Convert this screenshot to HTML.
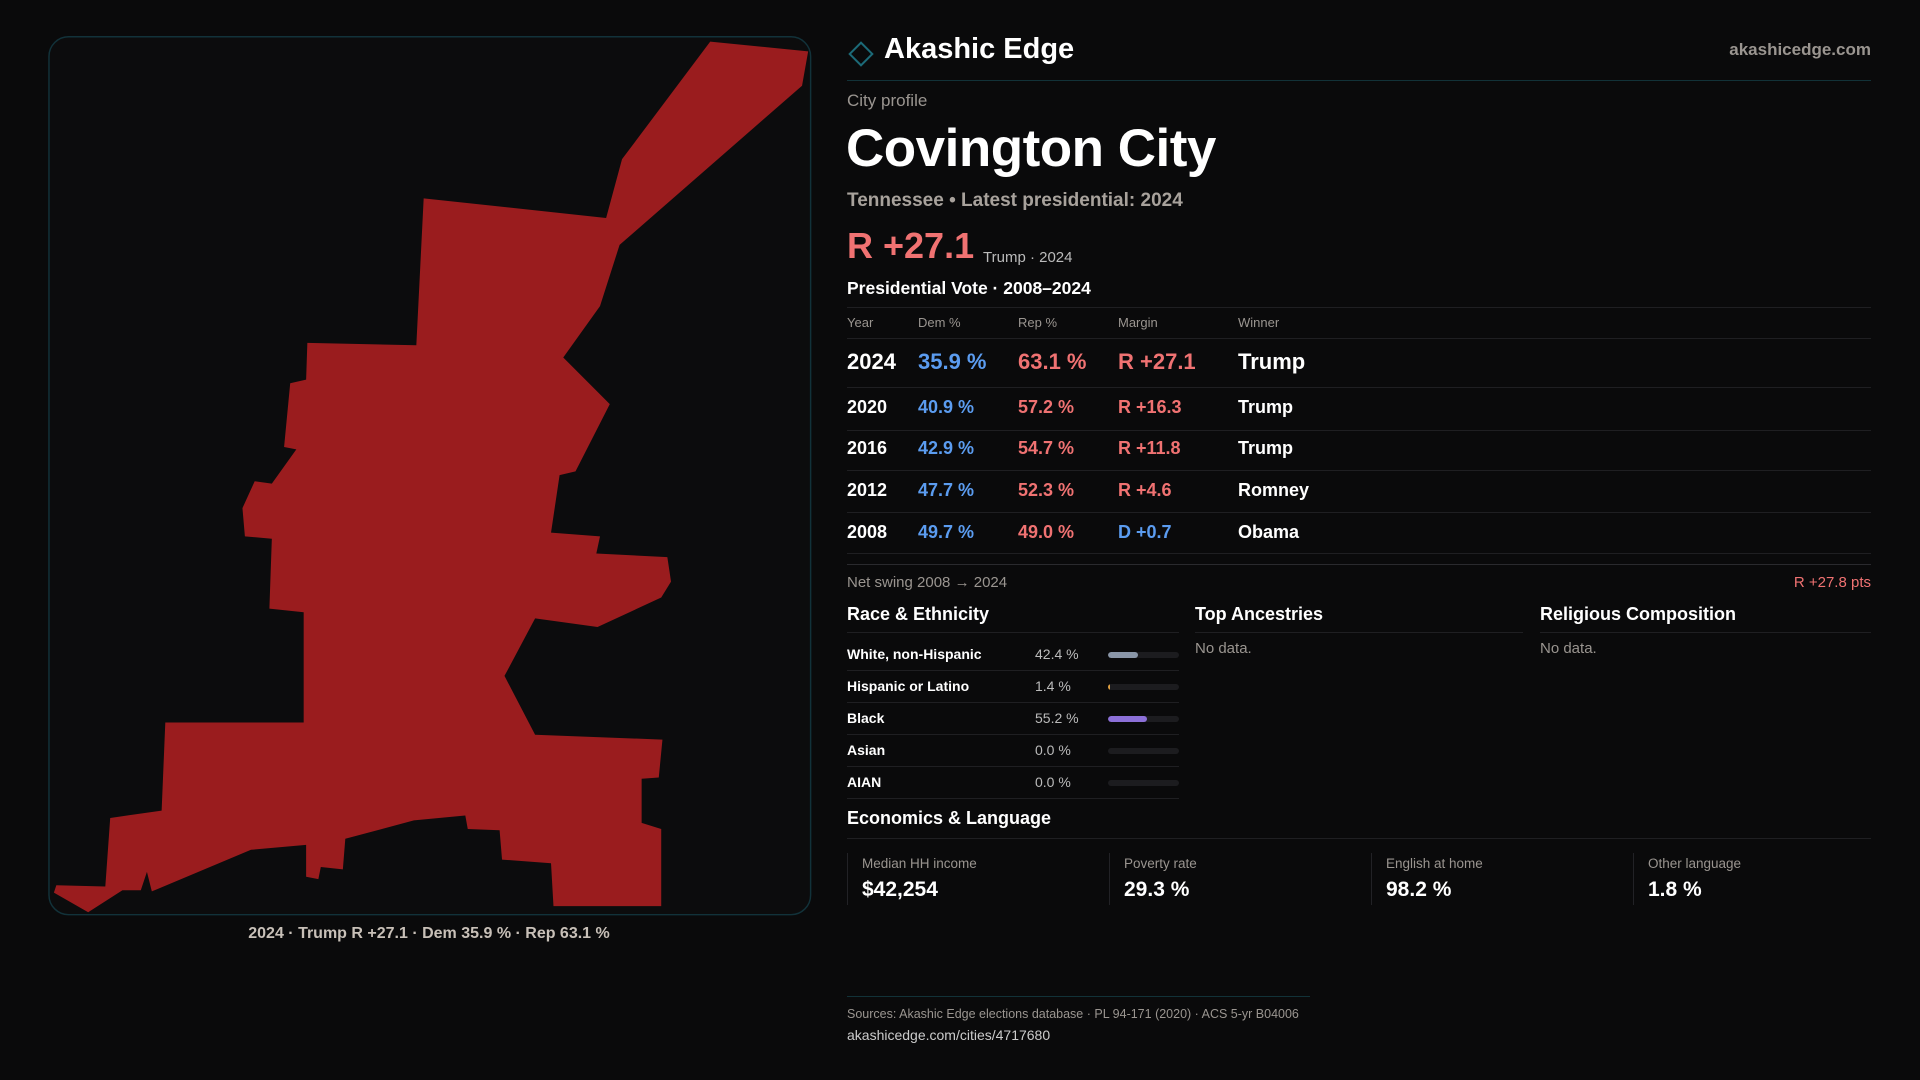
<!DOCTYPE html>
<html><head><meta charset="utf-8"><style>
*{margin:0;padding:0;box-sizing:border-box}
body{width:1920px;height:1080px;background:#0a0a0b;font-family:"Liberation Sans",sans-serif;color:#fff;position:relative;overflow:hidden}
.a{position:absolute;white-space:nowrap}
.g{color:#9a9590}
.dem{color:#5b9cf0}.rep{color:#f07272}
.ln{position:absolute;height:1px;background:#1f1f22}
</style></head><body>
<svg class="a" style="left:0;top:0" width="1920" height="1080" viewBox="0 0 1568 882">
<rect x="40" y="30" width="622" height="717" rx="16" fill="#0c0c0d" stroke="#12323a" stroke-width="1.2"/>
<polygon fill="#9a1c1e" points="580,34 660,42 655,70 506,200 490,250 460,292 498,330 470,385 457,388 450,435 490,438 487,452 545,455 548,475 540,488 488,512 437,505 412,552 437,600 541,604 538,635 524,636 524,672 540,677 540,740 452,740 450,705 410,702 408,678 382,677 380,666 338,670 282,685 280,710 262,708 260,718 250,716 250,690 205,694 124,728 120,712 115,727 100,727 72,745 44,729 46,723 86,724 90,668 132,662 135,590 248,590 248,500 220,497 222,440 200,438 198,415 208,393 222,395 242,367 232,365 237,313 250,310 251,280 340,282 346,162 495,178 508,130"/>
</svg>
<div class="a" style="left:0;width:858px;top:925px;text-align:center;font-size:16px;color:#c8c0b8;font-weight:bold">2024 · Trump R +27.1 · Dem 35.9 % · Rep 63.1 %</div>

<svg class="a" style="left:848px;top:41px" width="26" height="26"><rect x="5" y="5" width="16" height="16" transform="rotate(45 13 13)" fill="none" stroke="#1c6a78" stroke-width="2"/></svg>
<div class="a" style="left:884px;top:33px;font-size:29px;font-weight:bold">Akashic Edge</div>
<div class="a g" style="right:49px;top:40px;font-size:17px;font-weight:bold">akashicedge.com</div>
<div class="ln" style="left:847px;width:1024px;top:80px;background:#123238"></div>

<div class="a g" style="left:847px;top:91px;font-size:17px">City profile</div>
<div class="a" style="left:846px;top:118px;font-size:53px;font-weight:bold;letter-spacing:-0.5px">Covington City</div>
<div class="a" style="left:847px;top:190px;font-size:19px;font-weight:bold;color:#a8a29c">Tennessee • Latest presidential: 2024</div>
<div class="a rep" style="left:847px;top:225px;font-size:36px;font-weight:bold">R +27.1</div>
<div class="a" style="left:983px;top:249px;font-size:15px;color:#bbb">Trump · 2024</div>
<div class="a" style="left:847px;top:278px;font-size:17.5px;font-weight:bold">Presidential Vote · 2008–2024</div>
<div class="ln" style="left:847px;width:1024px;top:307px"></div>

<div>
<div class="a g" style="left:847px;top:315px;font-size:13px">Year</div>
<div class="a g" style="left:918px;top:315px;font-size:13px">Dem %</div>
<div class="a g" style="left:1018px;top:315px;font-size:13px">Rep %</div>
<div class="a g" style="left:1118px;top:315px;font-size:13px">Margin</div>
<div class="a g" style="left:1238px;top:315px;font-size:13px">Winner</div>
<div class="ln" style="left:847px;width:1024px;top:338px"></div>
<div id="rows"></div>
</div>
<div class="ln" style="left:847px;width:1024px;top:564px;background:#2a2a2e"></div>
<div class="a g" style="left:847px;top:574px;font-size:15px">Net swing 2008 → 2024</div>
<div class="a rep" style="right:49px;top:574px;font-size:15px">R +27.8 pts</div>

<div class="a" style="left:847px;top:604px;font-size:18px;font-weight:bold">Race &amp; Ethnicity</div>
<div class="ln" style="left:847px;width:332px;top:632px"></div>
<div id="race"></div>
<div class="a" style="left:1195px;top:604px;font-size:18px;font-weight:bold">Top Ancestries</div>
<div class="ln" style="left:1195px;width:328px;top:632px"></div>
<div class="a g" style="left:1195px;top:640px;font-size:15px">No data.</div>
<div class="a" style="left:1540px;top:604px;font-size:18px;font-weight:bold">Religious Composition</div>
<div class="ln" style="left:1540px;width:331px;top:632px"></div>
<div class="a g" style="left:1540px;top:640px;font-size:15px">No data.</div>

<div class="a" style="left:847px;top:808px;font-size:18px;font-weight:bold">Economics &amp; Language</div>
<div class="ln" style="left:847px;width:1024px;top:838px"></div>
<div id="cards"></div>

<div class="ln" style="left:847px;width:463px;top:996px;background:#123238"></div>
<div class="a g" style="left:847px;top:1007px;font-size:12.5px">Sources: Akashic Edge elections database · PL 94-171 (2020) · ACS 5-yr B04006</div>
<div class="a" style="left:847px;top:1027px;font-size:14px;color:#ccc">akashicedge.com/cities/4717680</div>

<script>
const years=["2024","2020","2016","2012","2008"];
const demPct=[35.9,40.9,42.9,47.7,49.7];
const repPct=[63.1,57.2,54.7,52.3,49.0];
const margins=["R +27.1","R +16.3","R +11.8","R +4.6","D +0.7"];
const winners=["Trump","Trump","Trump","Romney","Obama"];
const rowTops=[349,397,438,480,522];
const rows=document.getElementById('rows');
years.forEach((y,i)=>{
  const big=i===0, fs=big?22:18;
  const isR=margins[i].charAt(0)==='R';
  const cells=[[847,y,'#fff'],[918,demPct[i].toFixed(1)+' %','#5b9cf0'],[1018,repPct[i].toFixed(1)+' %','#f07272'],[1118,margins[i],isR?'#f07272':'#5b9cf0'],[1238,winners[i],'#fff']];
  cells.forEach((c,j)=>{
    const d=document.createElement('div');
    
    
    d.className='a';d.style.cssText=`left:${c[0]}px;top:${rowTops[i]}px;font-size:${fs}px;color:${c[2]};font-weight:bold`;
    d.textContent=c[1];rows.appendChild(d);
  });
  const l=document.createElement('div');
  
  
  l.className='ln';l.style.cssText=`left:847px;width:1024px;top:${[387,430,470,512,553][i]}px`;
  rows.appendChild(l);
});
const raceLabels=["White, non-Hispanic","Hispanic or Latino","Black","Asian","AIAN"];
const racePct=[42.4,1.4,55.2,0.0,0.0];
const raceColors=["#8a96a8","#e0a040","#8c70d8","#777","#777"];
const race=document.getElementById('race');
raceLabels.forEach((n,i)=>{
  const t=646+i*32;
  const a=document.createElement('div');
  
  
  a.className='a';a.style.cssText=`left:847px;top:${t}px;font-size:14px;font-weight:bold`;a.textContent=n;race.appendChild(a);
  const v=document.createElement('div');
  
  
  v.className='a';v.style.cssText=`left:1035px;top:${t}px;font-size:14px;color:#bbb`;v.textContent=racePct[i].toFixed(1)+' %';race.appendChild(v);
  const tr=document.createElement('div');
  
  
  tr.className='a';tr.style.cssText=`left:1108px;top:${t+6}px;width:71px;height:6px;border-radius:3px;background:#1c1c1f;overflow:hidden`;
  const f=document.createElement('div');
  
  
  f.style.cssText=`width:${racePct[i]/100*71}px;min-width:${racePct[i]>0?1.5:0}px;height:6px;border-radius:3px;background:${raceColors[i]}`;
  tr.appendChild(f);race.appendChild(tr);
  const l=document.createElement('div');
  
  
  l.className='ln';l.style.cssText=`left:847px;width:332px;top:${t+24}px`;race.appendChild(l);
});
const cardLabels=["Median HH income","Poverty rate","English at home","Other language"];
const cardValues=["$42,254","29.3 %","98.2 %","1.8 %"];
const cards=document.getElementById('cards');
cardLabels.forEach((n,i)=>{
  const x=847+i*262;
  const b=document.createElement('div');
  
  
  b.className='a';b.style.cssText=`left:${x}px;top:853px;width:1px;height:52px;background:#222226`;cards.appendChild(b);
  const a=document.createElement('div');
  
  
  a.className='a g';a.style.cssText=`left:${x+15}px;top:856px;font-size:13.5px`;a.textContent=n;cards.appendChild(a);
  const v=document.createElement('div');
  
  
  v.className='a';v.style.cssText=`left:${x+15}px;top:878px;font-size:21px;font-weight:bold`;v.textContent=cardValues[i];cards.appendChild(v);
});
</script>
</body></html>
